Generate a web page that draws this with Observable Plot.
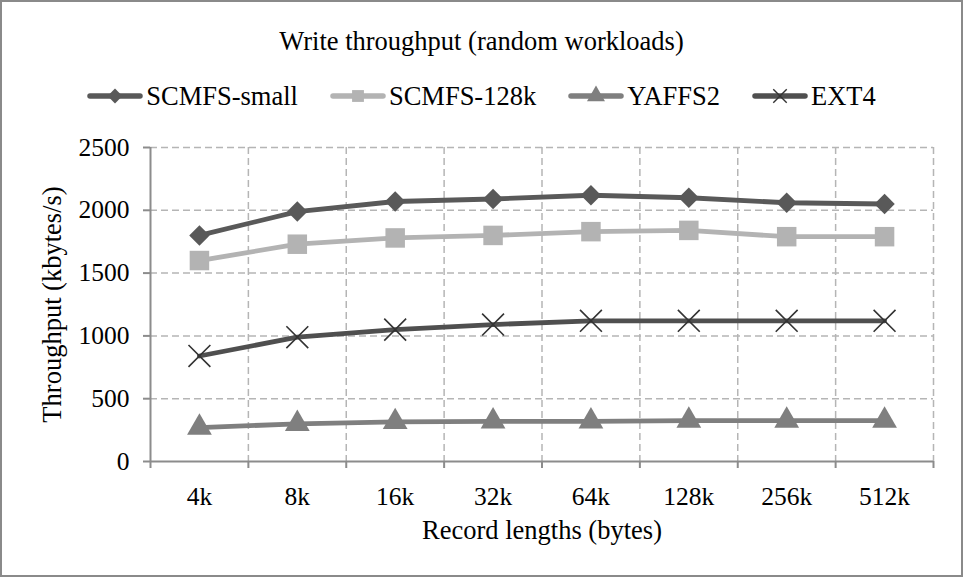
<!DOCTYPE html>
<html>
<head>
<meta charset="utf-8">
<script src="https://cdn.jsdelivr.net/npm/d3@7"></script>
<script src="https://cdn.jsdelivr.net/npm/@observablehq/plot@0.6"></script>
<style>
  body { margin: 0; background: #fff; font-family: "Liberation Serif", serif; color: #000; }
  #frame { position: absolute; left: 0; top: 0; width: 963px; height: 577px; box-sizing: border-box; border: 2px solid #8a8a8a; pointer-events: none; }
  #title { position: absolute; left: 0; width: 963px; top: 24px; line-height: 34px; text-align: center; font-size: 26.5px; }
  #legend { position: absolute; left: 0; width: 963px; top: 80px; height: 32px; display: flex; justify-content: center; align-items: center; font-size: 26.5px; }
  .item { display: flex; align-items: center; margin: 0 16px; }
  .item svg { display: block; margin-right: 3px; }
  #chart { position: absolute; left: 0; top: 120px; }
</style>
</head>
<body>
<div id="title">Write throughput (random workloads)</div>
<div id="legend"></div>
<div id="chart"></div>
<div id="frame"></div>
<script>
// Record lengths on the x axis
const recordLengths = ["4k", "8k", "16k", "32k", "64k", "128k", "256k", "512k"];

// Write throughput per file system, kbytes/s
const scmfsSmall = [1800, 1990, 2070, 2090, 2120, 2100, 2060, 2050];
const scmfs128k  = [1600, 1730, 1780, 1800, 1830, 1840, 1790, 1790];
const yaffs2     = [270, 300, 315, 320, 320, 325, 325, 325];
const ext4       = [840, 990, 1050, 1090, 1120, 1120, 1120, 1120];

const yTicks = [0, 500, 1000, 1500, 2000, 2500];

const xLabel = "Record lengths (bytes)";
const yLabel = "Throughput (kbytes/s)";

const series = [
  {name: "SCMFS-small", values: scmfsSmall, color: "#595959", symbol: "diamond2", r: 9.2, markColor: "#595959", stroked: false},
  {name: "SCMFS-128k",  values: scmfs128k,  color: "#b3b3b3", symbol: "square",   r: 11, markColor: "#b3b3b3", stroked: false},
  {name: "YAFFS2",      values: yaffs2,     color: "#7f7f7f", symbol: "triangle", r: 9.2, markColor: "#7f7f7f", stroked: false},
  {name: "EXT4",        values: ext4,       color: "#4f4f4f", symbol: "times",    r: 10, markColor: "#333333", stroked: true}
];

const n = recordLengths.length;
const rowsFor = s => recordLengths.map((len, i) => ({length: len, pos: i + 0.5, value: s.values[i]}));

const gridStyle = {stroke: "#b5b5b5", strokeWidth: 1.5, strokeDasharray: "7,4"};
const axisStroke = "#8c8c8c";
const serif = "'Liberation Serif', serif";

const marks = [
  Plot.ruleY(yTicks.filter(d => d > 0), gridStyle),
  Plot.ruleX(d3.range(1, n + 1), gridStyle),
  Plot.axisY(yTicks, {tickSize: 7, tickPadding: 14, tickFormat: d3.format("d"), stroke: axisStroke, strokeWidth: 2, fill: "#000", fontSize: 25.5, label: null}),
  Plot.axisX(d3.range(0, n + 1), {tickSize: 7, tickFormat: () => "", stroke: axisStroke, strokeWidth: 2, label: null}),
  Plot.axisX(recordLengths.map((_, i) => i + 0.5), {tickSize: 0, tickPadding: 25, tickFormat: d => recordLengths[Math.floor(d)], fill: "#000", fontSize: 25.5, label: null}),
  Plot.ruleY([0], {stroke: axisStroke, strokeWidth: 2}),
  Plot.ruleX([0], {stroke: axisStroke, strokeWidth: 2})
];

for (const s of series) {
  const rows = rowsFor(s);
  marks.push(Plot.line(rows, {x: "pos", y: "value", stroke: s.color, strokeWidth: 4.8, strokeLinejoin: "round"}));
  marks.push(Plot.dot(rows, s.stroked
    ? {x: "pos", y: "value", symbol: s.symbol, r: s.r, stroke: s.markColor, strokeWidth: 1.6, fill: "none"}
    : {x: "pos", y: "value", symbol: s.symbol, r: s.r, fill: s.markColor, stroke: "none"}));
}

marks.push(Plot.text([yLabel], {frameAnchor: "left", textAnchor: "middle", dx: -98, rotate: -90, fontSize: 26.5, fill: "#000"}));
marks.push(Plot.text([xLabel], {frameAnchor: "bottom", textAnchor: "middle", dy: 77, fontSize: 26.5, fill: "#000"}));

const chart = Plot.plot({
  width: 963,
  height: 457,
  marginTop: 27,
  marginBottom: 116,
  marginLeft: 150,
  marginRight: 30,
  x: {type: "linear", domain: [0, n]},
  y: {domain: [0, 2500]},
  style: {fontFamily: serif, fontSize: "25.5px", color: "#000", background: "transparent", overflow: "visible"},
  marks
});
document.getElementById("chart").appendChild(chart);

// Legend: a short line with the series marker, then the name
const legend = d3.select("#legend");
const symbolTypes = {diamond2: d3.symbolDiamond2, square: d3.symbolSquare, triangle: d3.symbolTriangle, times: d3.symbolTimes};
for (const s of series) {
  const item = legend.append("div").attr("class", "item");
  const svg = item.append("svg").attr("width", 56).attr("height", 26);
  svg.append("line")
    .attr("x1", 3).attr("x2", 53).attr("y1", 13).attr("y2", 13)
    .attr("stroke", s.color).attr("stroke-width", 5.5).attr("stroke-linecap", "round");
  const size = s.stroked ? 120 : 140;
  const p = svg.append("path")
    .attr("transform", "translate(28,13)")
    .attr("d", d3.symbol(symbolTypes[s.symbol], size)());
  if (s.stroked) p.attr("fill", "none").attr("stroke", s.markColor).attr("stroke-width", 1.4);
  else p.attr("fill", s.markColor);
  item.append("span").text(s.name);
}
</script>
</body>
</html>
